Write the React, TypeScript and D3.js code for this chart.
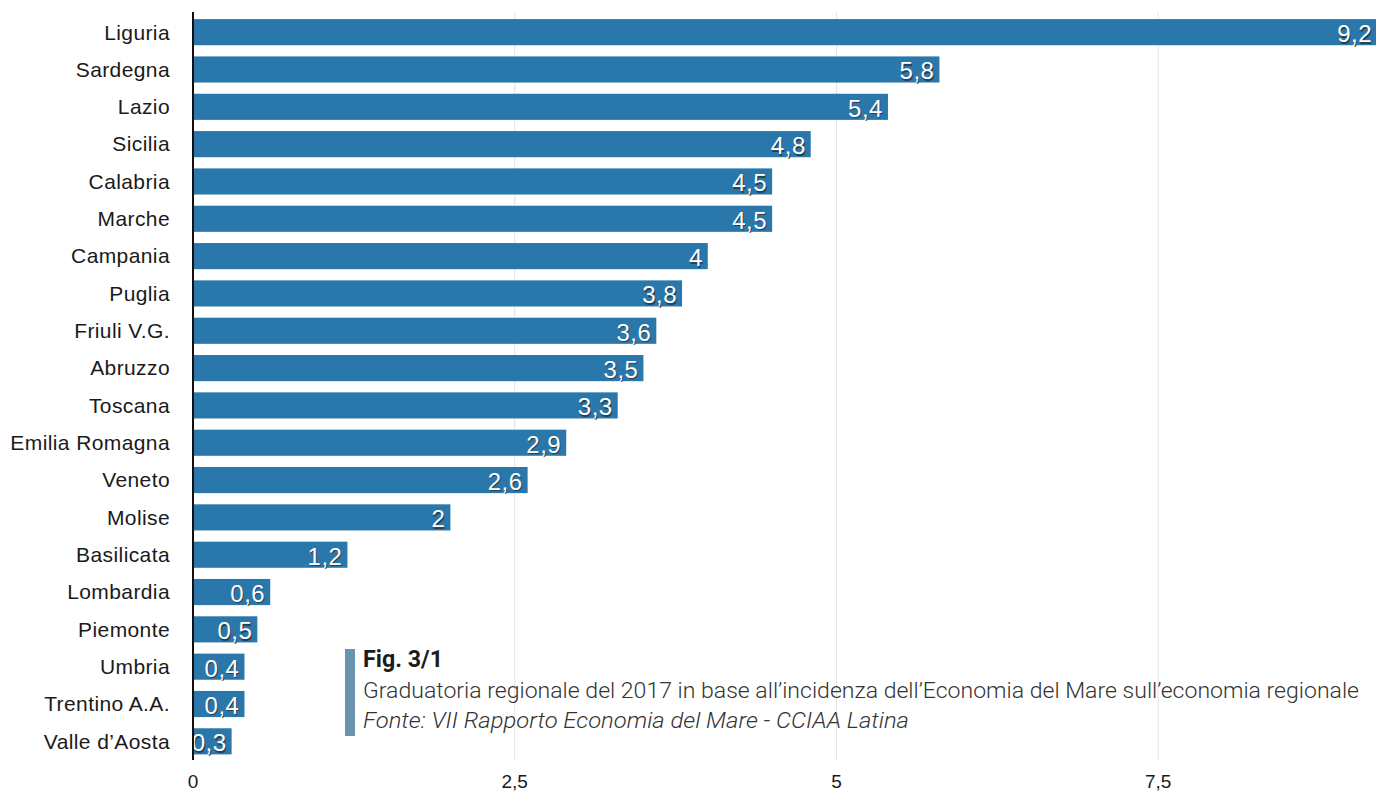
import React from "react";
import * as d3 from "d3";

const regions = ["Liguria","Sardegna","Lazio","Sicilia","Calabria","Marche","Campania","Puglia","Friuli V.G.","Abruzzo","Toscana","Emilia Romagna","Veneto","Molise","Basilicata","Lombardia","Piemonte","Umbria","Trentino A.A.","Valle d\u2019Aosta"];
const values = [9.2,5.8,5.4,4.8,4.5,4.5,4,3.8,3.6,3.5,3.3,2.9,2.6,2,1.2,0.6,0.5,0.4,0.4,0.3];
const ticks = [0, 2.5, 5, 7.5];
const figTitle = "Fig. 3/1";
const caption = "Graduatoria regionale del 2017 in base all\u2019incidenza dell\u2019Economia del Mare sull\u2019economia regionale";
const source = "Fonte: VII Rapporto Economia del Mare - CCIAA Latina";

const fmt = (v: number) => String(v).replace(".", ",");

export default function App() {
  const W = 1376, H = 794;
  const x = d3.scaleLinear().domain([0, 9.2]).range([193, 1377]);
  const y = d3.scaleBand().domain(regions).range([13.5, 760]).paddingInner(0.3).paddingOuter(0.15);
  const labelFont = "'Liberation Sans', Arial, Helvetica, sans-serif";
  return (
    <svg width={W} height={H} style={{ position: "absolute", left: 0, top: 0, background: "#fff" }}>
      {ticks.slice(1).map((t) => (
        <line key={t} x1={x(t)} x2={x(t)} y1={12} y2={760} stroke="#e3e3e3" strokeWidth={1} />
      ))}
      {regions.map((r, i) => {
        const yy = y(r)!;
        const bh = y.bandwidth();
        const xe = x(values[i]);
        const cy = yy + bh / 2;
        return (
          <g key={r}>
            <rect x={x(0)} y={yy} width={xe - x(0)} height={bh} fill="#2a78ab" />
            <text x={170} y={cy} dy="0.35em" textAnchor="end" fontFamily={labelFont} fontSize={21} letterSpacing={0.4} fill="#1a1a1a">{r}</text>
            <text x={xe - 4} y={cy + 3} dy="0.35em" textAnchor="end" fontFamily={labelFont} fontSize={24} letterSpacing={0.5} fill="#2b2b2b" opacity={0.75}>{fmt(values[i])}</text>
            <text x={xe - 5} y={cy + 1.5} dy="0.35em" textAnchor="end" fontFamily={labelFont} fontSize={24} letterSpacing={0.5} fill="#fff">{fmt(values[i])}</text>
          </g>
        );
      })}
      <line x1={x(0)} x2={x(0)} y1={12} y2={760} stroke="#111" strokeWidth={2} />
      {ticks.map((t) => (
        <text key={t} x={x(t)} y={781} dy="0.35em" textAnchor="middle" fontFamily={labelFont} fontSize={19} fill="#1a1a1a">{fmt(t)}</text>
      ))}
      <rect x={345} y={649} width={10} height={87} fill="#6a93b0" />
      <text x={363} y={667} fontFamily="Roboto, sans-serif" fontWeight={700} fontSize={23} fill="#1c1c1c" textLength={80} lengthAdjust="spacingAndGlyphs">{figTitle}</text>
      <text x={363} y={698} fontFamily="Roboto, sans-serif" fontWeight={300} fontSize={22} fill="#333" textLength={996} lengthAdjust="spacingAndGlyphs">{caption}</text>
      <text x={363} y={728} fontFamily="Roboto, sans-serif" fontWeight={300} fontStyle="italic" fontSize={22} fill="#333" textLength={546} lengthAdjust="spacingAndGlyphs">{source}</text>
    </svg>
  );
}
